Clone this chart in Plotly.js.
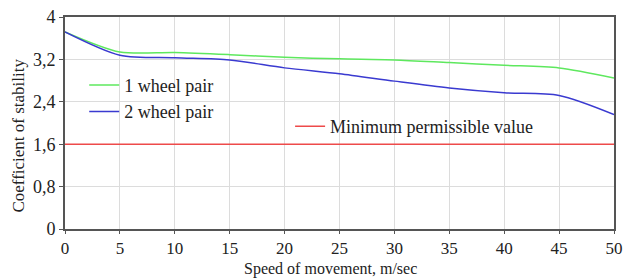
<!DOCTYPE html>
<html><head><meta charset="utf-8">
<script src="https://cdn.plot.ly/plotly-3.0.1.min.js"></script>
<style>body{margin:0;background:#fff}#c{width:635px;height:279px}</style>
</head><body><div id="c"></div>
<script>
const speed = [0, 5, 10, 15, 20, 25, 30, 35, 40, 45, 50];
const pair1 = [3.72, 3.34, 3.33, 3.29, 3.24, 3.21, 3.19, 3.14, 3.09, 3.04, 2.85];
const pair2 = [3.72, 3.28, 3.23, 3.19, 3.04, 2.93, 2.79, 2.66, 2.57, 2.52, 2.16];
const minX = [0, 50];
const minVal = [1.6, 1.6];
const yTicks = [0, 0.8, 1.6, 2.4, 3.2, 4];
const yLabels = ["0", "0,8", "1,6", "2,4", "3,2", "4"];
const xTicks = [0, 5, 10, 15, 20, 25, 30, 35, 40, 45, 50];
const xTitle = "Speed of movement, m/sec";
const yTitle = "Coefficient of stability";

const fam = "'Liberation Serif', 'Times New Roman', serif";
const txt = "#222";
const traces = [
  {x: speed, y: pair1, name: "1 wheel pair", mode: "lines", line: {color: "#5ee85e", width: 1.5, shape: "spline", smoothing: 0.8}, legend: "legend"},
  {x: speed, y: pair2, name: "2 wheel pair", mode: "lines", line: {color: "#3a3ad0", width: 1.5, shape: "spline", smoothing: 0.8}, legend: "legend"},
  {x: minX, y: minVal, name: "Minimum permissible value", mode: "lines", line: {color: "#ee4a4a", width: 1.5}, legend: "legend2"}
];
const layout = {
  width: 635, height: 279,
  margin: {l: 65, r: 21, t: 17, b: 50},
  paper_bgcolor: "#fff", plot_bgcolor: "#fff",
  font: {family: fam, color: txt, size: 17},
  showlegend: true,
  legend: {x: 0.035, y: 0.765, xanchor: "left", yanchor: "top", bgcolor: "rgba(0,0,0,0)", font: {size: 18, family: fam, color: txt}, tracegroupgap: 0, itemwidth: 30},
  legend2: {x: 0.41, y: 0.57, xanchor: "left", yanchor: "top", bgcolor: "rgba(0,0,0,0)", font: {size: 18, family: fam, color: txt}, itemwidth: 30},
  xaxis: {range: [0, 50], tickvals: xTicks, ticktext: xTicks.map(String), showgrid: true, gridcolor: "#dcdcdc", gridwidth: 1,
    showline: true, linecolor: "#555", linewidth: 2, mirror: true, ticks: "outside", ticklen: 3, tickcolor: "#555",
    tickfont: {size: 17, family: fam, color: txt}, zeroline: false},
  yaxis: {range: [0, 4], tickvals: yTicks, ticktext: yLabels, showgrid: true, gridcolor: "#dcdcdc", gridwidth: 1,
    showline: true, linecolor: "#555", linewidth: 2, mirror: true, ticks: "outside", ticklen: 4, tickcolor: "#555",
    tickfont: {size: 18, family: fam, color: txt}, zeroline: false},
  annotations: [
    {text: xTitle, xref: "paper", yref: "paper", x: 0.483, y: -0.19, xanchor: "center", yanchor: "middle", showarrow: false, font: {size: 16, family: fam, color: txt}},
    {text: yTitle, xref: "paper", yref: "paper", x: -0.084, y: 0.44, xanchor: "center", yanchor: "middle", textangle: -90, showarrow: false, font: {size: 17, family: fam, color: txt}}
  ]
};
Plotly.newPlot("c", traces, layout, {staticPlot: true});
</script></body></html>
